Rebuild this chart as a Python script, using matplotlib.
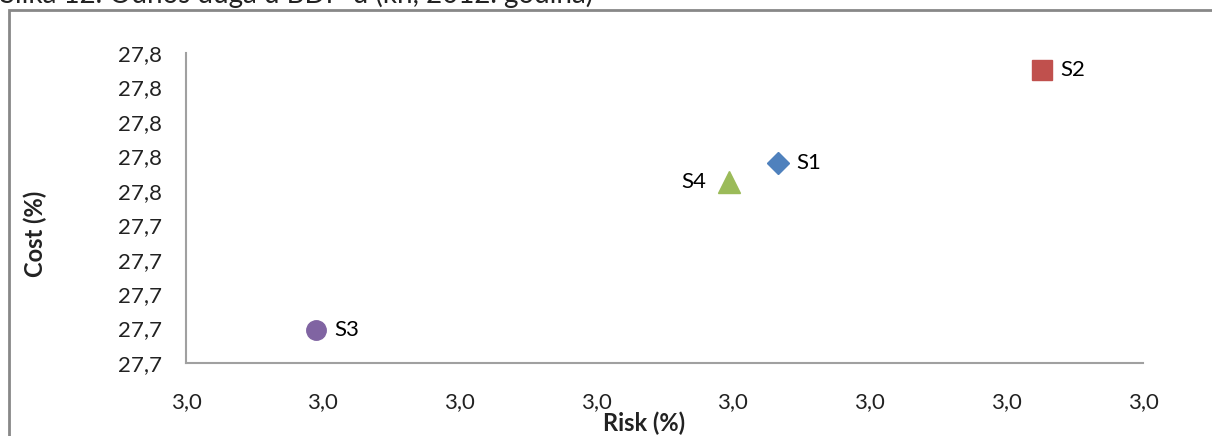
import matplotlib.pyplot as plt
from matplotlib.patches import Rectangle
from matplotlib.ticker import FuncFormatter, MultipleLocator

plt.rcParams['font.family'] = ['Lato', 'DejaVu Sans']

# scenarios: risk and cost (%)
names = ['S1', 'S2', 'S3', 'S4']
risk = [3.0133, 3.0326, 2.9795, 3.0097]
cost = [27.776, 27.830, 27.679, 27.765]
markers = ['D', 's', 'o', '^']
colors = ['#4F81BD', '#C0504D', '#8064A2', '#9BBB59']
sizes = [11, 15, 14, 16]
label_side = ['right', 'right', 'right', 'left']

fig = plt.figure(figsize=(12.12, 4.36), dpi=100)
ax = fig.add_axes([186 / 1212, 1 - 363 / 436, (1143 - 186) / 1212, (363 - 53) / 436])

for n, x, y, m, c, s, side in zip(names, risk, cost, markers, colors, sizes, label_side):
    ax.plot(x, y, marker=m, color=c, markersize=s, linestyle='none', clip_on=False)
    if side == 'right':
        ax.annotate(n, (x, y), xytext=(13, 0), textcoords='offset points',
                    ha='left', va='center', fontsize=16)
    else:
        ax.annotate(n, (x, y), xytext=(-16, 0), textcoords='offset points',
                    ha='right', va='center', fontsize=16)

ax.set_xlim(2.97, 3.04)
ax.set_ylim(27.66, 27.84)
ax.xaxis.set_major_locator(MultipleLocator(0.01))
ax.yaxis.set_major_locator(MultipleLocator(0.02))
comma = FuncFormatter(lambda v, p: f'{v:.1f}'.replace('.', ','))
ax.xaxis.set_major_formatter(comma)
ax.yaxis.set_major_formatter(comma)
ax.tick_params(length=0, labelsize=16, colors='#222222')
ax.tick_params(axis='y', pad=17)
ax.tick_params(axis='x', pad=21)

for side in ['top', 'right']:
    ax.spines[side].set_visible(False)
for side in ['left', 'bottom']:
    ax.spines[side].set_color('#A0A0A0')
    ax.spines[side].set_linewidth(1.5)

fig.text(644 / 1212, 1 - 423 / 436, 'Risk (%)', ha='center', va='center',
         fontsize=17, fontweight='bold', color='#222222')
fig.text(35 / 1212, 1 - 234 / 436, 'Cost (%)', ha='center', va='center',
         rotation=90, fontsize=17, fontweight='bold', color='#222222')

# caption cut at the top edge
fig.text(0, 1 - 3 / 436, 'Slika 12. Odnos duga u BDP-u (kn, 2012. godina)',
         ha='left', va='baseline', fontsize=20, color='#222222')

# chart frame
fig.patches.append(Rectangle((8.5 / 1212, -0.1), 1.2, 1.1 - 10.5 / 436,
                             transform=fig.transFigure, fill=False,
                             edgecolor='#888888', linewidth=2))

fig.savefig('out.png', dpi=100)
